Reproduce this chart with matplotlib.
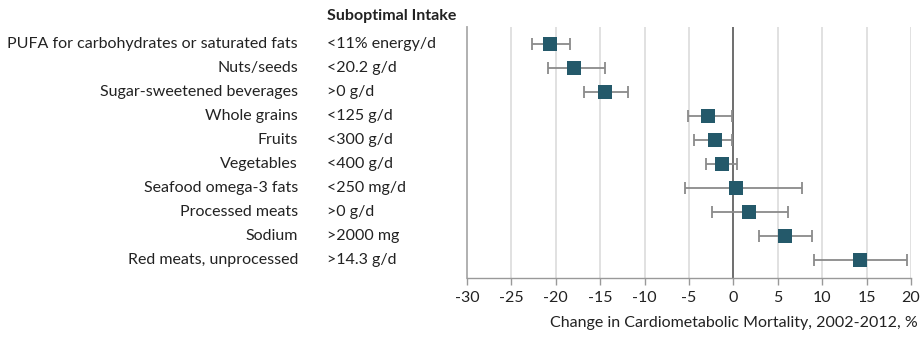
import matplotlib
matplotlib.use("Agg")
import matplotlib.pyplot as plt
import matplotlib.transforms as mtrans

plt.rcParams['font.family'] = ["Lato", "DejaVu Sans"]

factors = ["PUFA for carbohydrates or saturated fats", "Nuts/seeds", "Sugar-sweetened beverages",
           "Whole grains", "Fruits", "Vegetables", "Seafood omega-3 fats", "Processed meats",
           "Sodium", "Red meats, unprocessed"]
intake = ["<11% energy/d", "<20.2 g/d", ">0 g/d", "<125 g/d", "<300 g/d", "<400 g/d",
          "<250 mg/d", ">0 g/d", ">2000 mg", ">14.3 g/d"]
estimate = [-20.7, -18.0, -14.5, -2.9, -2.1, -1.3, 0.3, 1.8, 5.8, 14.3]
lower = [-22.7, -20.9, -16.8, -5.1, -4.4, -3.1, -5.4, -2.4, 2.9, 9.1]
upper = [-18.4, -14.5, -11.9, -0.2, -0.2, 0.4, 7.7, 6.2, 8.8, 19.5]
xticks = [-30, -25, -20, -15, -10, -5, 0, 5, 10, 15, 20]

W, H = 924, 337
FS = 11.5
fig = plt.figure(figsize=(W/100, H/100), dpi=100)
ax = fig.add_axes([467/W, 1-278/H, (911-467)/W, (278-27)/H])

y = list(range(len(factors)))
err = [[e - l for e, l in zip(estimate, lower)], [u - e for e, u in zip(estimate, upper)]]

for t in xticks[1:]:
    if t != 0:
        ax.axvline(t, color="#dedede", lw=1.3, zorder=0)
ax.axvline(0, color="#555555", lw=1.2, zorder=1)

ax.errorbar(estimate, y, xerr=err, fmt="none", ecolor="#8a8a8a", elinewidth=1.3,
            capsize=4, capthick=1.3, zorder=2)
ax.scatter(estimate, y, marker="s", s=90, color="#24596a", zorder=3, linewidths=0)

ax.set_xlim(-30, 20)
ax.set_ylim(9.75, -0.71)
ax.set_xticks(xticks)
ax.set_xticklabels([str(t) for t in xticks], fontsize=FS, color="#222222")
ax.tick_params(axis="x", length=5, width=1, color="#999999", pad=4)
ax.set_yticks([])
for s in ["top", "right"]:
    ax.spines[s].set_visible(False)
ax.spines["left"].set_color("#aaaaaa")
ax.spines["bottom"].set_color("#999999")
ax.spines["left"].set_linewidth(1.3)
ax.spines["bottom"].set_linewidth(1.0)

tr = mtrans.blended_transform_factory(fig.transFigure, ax.transData)
for yi, f, it in zip(y, factors, intake):
    ax.text(298/W, yi, f, transform=tr, ha="right", va="center", fontsize=FS, color="#222222")
    ax.text(327/W, yi, it, transform=tr, ha="left", va="center", fontsize=FS, color="#222222")

fig.text(327/W, 1-16/H, "Suboptimal Intake", ha="left", va="center", fontsize=FS,
         fontweight="bold", color="#222222")
fig.text(918/W, 1-323/H, "Change in Cardiometabolic Mortality, 2002-2012, %", ha="right",
         va="center", fontsize=FS, color="#222222")

fig.savefig("out.png", dpi=100)
